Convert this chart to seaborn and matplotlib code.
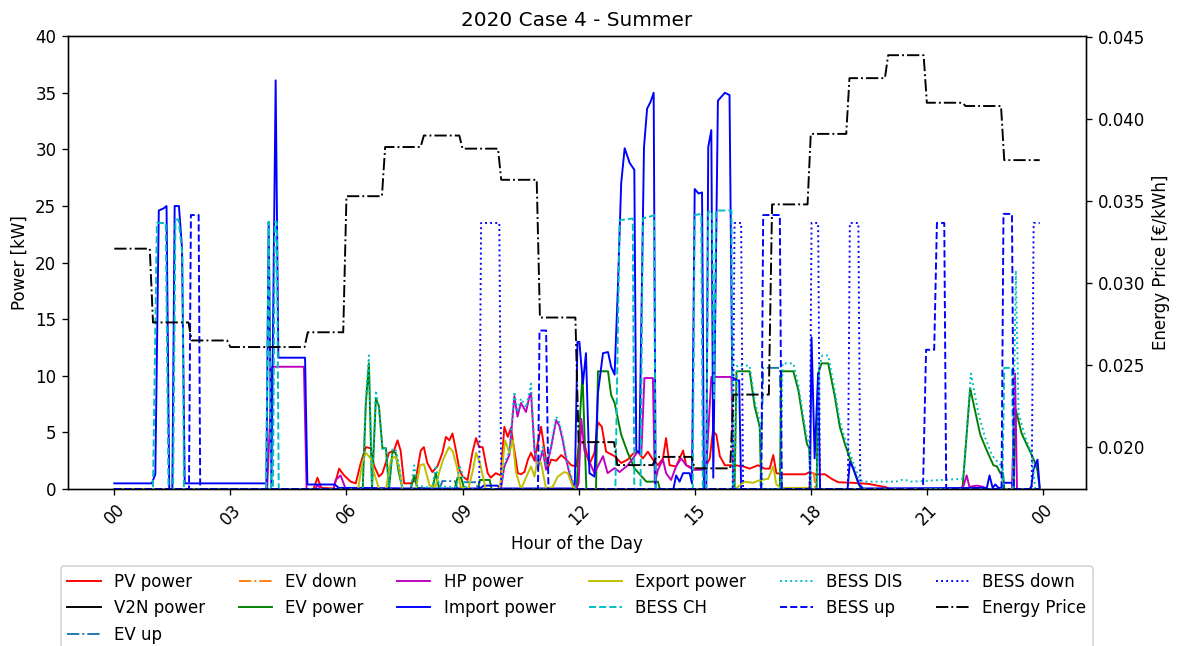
import numpy as np
import pandas as pd
import matplotlib
matplotlib.use("Agg")
import matplotlib.pyplot as plt
import matplotlib.dates as mdates
import seaborn as sns

# ---- series as (hour of day, kW) points ----
pv_power = [(0, 0), (5.15, 0), (5.25, 1.0), (5.35, 0.1), (5.67, 0.05), (5.81, 1.8), (5.94, 1.2),
            (6.11, 0.65), (6.24, 0.5), (6.37, 2.3), (6.5, 3.7), (6.63, 3.6), (6.71, 2.1), (6.84, 1.1),
            (6.93, 1.4), (7.1, 3.2), (7.23, 3.4), (7.32, 4.3), (7.4, 3.4), (7.49, 0.5), (7.66, 0.5),
            (7.79, 0.8), (7.92, 3.4), (8.0, 3.7), (8.09, 2.3), (8.22, 1.5), (8.35, 2.0), (8.48, 3.2),
            (8.57, 4.6), (8.66, 4.3), (8.74, 4.9), (8.83, 3.4), (8.92, 1.7), (9.0, 1.1), (9.13, 0.8),
            (9.26, 3.3), (9.35, 4.5), (9.43, 3.7), (9.52, 3.7), (9.65, 1.4), (9.73, 1.0), (9.86, 1.4),
            (9.99, 1.2), (10.08, 5.5), (10.17, 4.6), (10.25, 5.4), (10.34, 3.4), (10.43, 1.4),
            (10.51, 1.3), (10.6, 1.5), (10.69, 2.6), (10.77, 3.2), (10.86, 2.5), (10.94, 4.0),
            (11.03, 5.5), (11.12, 3.4), (11.2, 1.8), (11.29, 2.6), (11.42, 2.5), (11.55, 3.0),
            (11.68, 2.6), (11.81, 2.1), (11.94, 2.0), (12.02, 4.2), (12.15, 4.0), (12.28, 2.2),
            (12.41, 3.2), (12.5, 5.9), (12.6, 5.5), (12.71, 3.3), (12.93, 2.9), (13.1, 2.3),
            (13.27, 2.6), (13.4, 3.1), (13.53, 3.3), (13.66, 2.7), (13.79, 3.3), (13.92, 2.6),
            (14.05, 2.1), (14.18, 2.7), (14.26, 4.5), (14.35, 2.1), (14.52, 2.0), (14.7, 3.4),
            (14.78, 2.1), (15.0, 1.8), (15.26, 1.8), (15.39, 2.7), (15.47, 5.1), (15.56, 4.8),
            (15.65, 2.9), (15.78, 2.1), (16.04, 2.1), (16.25, 2.0), (16.42, 1.8), (16.64, 2.1),
            (16.81, 1.8), (16.94, 1.8), (17.03, 3.0), (17.11, 1.4), (17.29, 1.3), (17.59, 1.3),
            (17.85, 1.3), (17.98, 1.5), (18.11, 1.3), (18.37, 1.3), (18.54, 0.9), (18.71, 0.6),
            (19.06, 0.55), (19.5, 0.45), (19.95, 0.15), (20.05, 0), (23.917, 0)]

v2n_power = [(0, 0), (23.917, 0)]

ev_up = [(0, 0), (8.4, 0), (8.48, 0.7), (8.8, 0.7), (8.87, 0), (9.0, 0), (9.05, 0.6), (9.35, 0.6),
         (9.4, 0), (16.7, 0), (16.77, 10.7), (17.2, 10.7), (17.25, 0), (23.917, 0)]

ev_down = [(0, 0), (17.95, 0), (18.0, 1.4), (18.08, 1.4), (18.12, 0), (23.917, 0)]

ev_power = [(0, 0), (6.42, 0), (6.5, 7.5), (6.58, 11.1), (6.66, 0), (6.76, 8.0), (6.84, 7.3),
            (6.93, 3.6), (7.02, 3.6), (7.1, 0), (7.19, 3.3), (7.27, 3.2), (7.35, 1.5), (7.45, 0),
            (7.66, 0), (7.75, 1.2), (7.83, 0.1), (8.22, 0), (8.31, 1.4), (8.4, 0), (8.8, 0),
            (8.87, 1.0), (8.96, 1.0), (9.05, 0), (9.4, 0), (9.45, 0.8), (9.7, 0.8), (9.75, 0),
            (11.95, 0), (12.03, 6.0), (12.1, 10.2), (12.2, 0), (12.45, 0), (12.5, 10.4),
            (12.76, 10.4), (12.84, 8.3), (12.93, 7.6), (13.1, 4.8), (13.27, 3.2), (13.45, 1.8),
            (13.75, 0.65), (14.05, 0.65), (14.1, 0), (16.03, 0), (16.08, 10.4), (16.42, 10.4),
            (16.55, 7.3), (16.68, 5.5), (16.72, 0), (17.2, 0), (17.24, 10.4), (17.55, 10.4),
            (17.68, 8.7), (17.8, 6.1), (17.9, 4.0), (17.96, 3.6), (18.0, 0), (18.15, 0),
            (18.19, 10.2), (18.28, 11.1), (18.45, 11.1), (18.62, 8.2), (18.75, 5.5), (18.88, 4.0),
            (19.01, 2.7), (19.14, 1.4), (19.23, 0.5), (19.3, 0), (21.92, 0), (22.12, 8.9),
            (22.38, 4.8), (22.55, 3.4), (22.72, 2.1), (22.81, 2.0), (22.9, 1.4), (22.97, 1.4),
            (23.0, 0), (23.24, 0), (23.3, 7.0), (23.45, 4.9), (23.6, 3.8), (23.71, 3.0),
            (23.8, 2.3), (23.86, 1.6), (23.917, 0)]

hp_power = [(0, 0), (3.95, 0), (4.08, 10.8), (4.9, 10.8), (4.97, 0), (5.2, 0), (5.25, 0.35),
            (5.35, 0), (5.67, 0), (5.72, 0.8), (5.85, 1.2), (5.98, 0), (9.9, 0), (10.0, 0.2),
            (10.08, 2.0), (10.21, 3.0), (10.34, 8.2), (10.42, 6.4), (10.51, 7.6), (10.64, 6.8),
            (10.73, 8.2), (10.77, 8.5), (10.86, 3.4), (10.94, 1.8), (11.07, 3.4), (11.16, 1.7),
            (11.29, 3.7), (11.42, 6.1), (11.5, 5.6), (11.59, 4.3), (11.68, 2.6), (11.76, 1.4),
            (11.85, 0.5), (11.94, 0), (12.0, 0.5), (12.07, 6.2), (12.15, 3.4), (12.41, 1.4),
            (12.63, 2.9), (12.75, 1.4), (12.93, 1.85), (13.06, 1.5), (13.27, 2.1), (13.53, 3.3),
            (13.62, 3.0), (13.7, 9.8), (13.92, 9.8), (13.97, 0.5), (14.05, 1.7), (14.18, 2.6),
            (14.26, 1.4), (14.39, 0.8), (14.52, 2.0), (14.65, 2.7), (14.78, 2.1), (14.96, 1.7),
            (15.21, 1.7), (15.3, 1.9), (15.43, 9.9), (15.95, 9.9), (16.0, 0), (21.85, 0),
            (21.95, 0.3), (22.03, 1.2), (22.1, 0.2), (22.3, 0.3), (22.45, 0.2), (22.55, 0),
            (23.2, 0), (23.28, 10.2), (23.33, 0), (23.917, 0)]

import_power = [(0, 0.5), (0.97, 0.5), (1.06, 1.3), (1.15, 24.6), (1.28, 24.8), (1.35, 25.0),
                (1.42, 0), (1.5, 0), (1.56, 25.0), (1.67, 25.0), (1.75, 21.3), (1.82, 0.5),
                (3.93, 0.5), (3.99, 23.6), (4.06, 0.5), (4.17, 36.1), (4.24, 11.6), (4.93, 11.6),
                (4.99, 0.4), (5.7, 0.4), (5.8, 0.1), (6.3, 0.1), (7.6, 0.05), (9.45, 0.05),
                (9.55, 0.3), (9.9, 0.3), (10.0, 0.05), (11.9, 0.05), (11.97, 13.0), (12.02, 13.0),
                (12.11, 9.3), (12.19, 12.0), (12.28, 1.4), (12.41, 1.1), (12.5, 8.5), (12.63, 12.0),
                (12.76, 12.1), (12.84, 10.8), (12.93, 10.1), (13.01, 17.3), (13.1, 27.0),
                (13.19, 30.1), (13.32, 28.8), (13.44, 28.2), (13.49, 3.4), (13.57, 3.2),
                (13.69, 30.2), (13.77, 33.6), (13.86, 34.2), (13.94, 35.0), (13.99, 0), (14.45, 0),
                (14.52, 1.2), (14.61, 0.65), (14.7, 1.4), (14.87, 1.4), (14.93, 0.5), (15.0, 26.5),
                (15.1, 26.1), (15.19, 26.2), (15.24, 0), (15.3, 0), (15.35, 30.2), (15.43, 31.7),
                (15.48, 1.0), (15.6, 34.3), (15.78, 35.0), (15.9, 34.8), (15.97, 9.9), (16.08, 9.6),
                (16.15, 9.6), (16.2, 0), (17.98, 0), (18.02, 13.4), (18.1, 2.7), (18.19, 10.2),
                (18.24, 0), (18.95, 0), (19.01, 2.4), (19.1, 1.8), (19.25, 0.4), (19.35, 0.05),
                (22.55, 0.1), (22.62, 1.2), (22.7, 0.1), (22.77, 0.4), (22.85, 0.1), (22.95, 0.1),
                (23.0, 0.55), (23.2, 0.55), (23.26, 0), (23.65, 0), (23.7, 0.2), (23.76, 1.8),
                (23.86, 2.6), (23.917, 0.1)]

export_power = [(0, 0), (6.3, 0), (6.41, 2.3), (6.5, 3.2), (6.63, 2.7), (6.71, 1.5), (6.84, 0),
                (7.02, 0), (7.15, 2.6), (7.27, 2.9), (7.35, 2.0), (7.45, 0), (7.8, 0), (7.9, 2.1),
                (8.0, 2.2), (8.15, 0.3), (8.3, 0.2), (8.4, 1.5), (8.5, 2.6), (8.65, 3.7),
                (8.75, 3.3), (8.85, 2.0), (8.95, 0.2), (9.15, 0), (9.27, 1.7), (9.35, 3.2),
                (9.45, 2.3), (9.6, 0), (9.95, 0), (10.0, 1.1), (10.1, 4.3), (10.21, 3.2),
                (10.3, 4.3), (10.38, 1.5), (10.51, 0), (10.69, 1.4), (10.77, 2.0), (10.86, 1.1),
                (10.94, 2.6), (11.03, 2.3), (11.16, 0), (11.33, 0.2), (11.46, 1.1), (11.63, 1.5),
                (11.72, 1.4), (11.85, 0.2), (11.94, 0), (16.05, 0), (16.12, 0.2), (16.29, 0.65),
                (16.5, 0.55), (16.7, 0.8), (16.9, 0.9), (17.03, 2.0), (17.11, 0.4), (17.24, 0.1),
                (17.95, 0.1), (18.05, 0), (23.917, 0)]

bess_ch = [(0, 0), (1.0, 0), (1.1, 23.5), (1.33, 23.5), (1.4, 0), (1.52, 0), (1.58, 23.8),
           (1.66, 23.8), (1.76, 20.7), (1.8, 0), (3.92, 0), (3.99, 23.6), (4.05, 0), (4.1, 0),
           (4.15, 23.6), (4.2, 23.6), (4.25, 0), (12.95, 0), (13.06, 23.75), (13.4, 23.9),
           (13.44, 0), (13.6, 0), (13.66, 23.9), (13.88, 24.1), (13.95, 24.2), (13.99, 0),
           (14.95, 0), (15.0, 24.2), (15.17, 24.3), (15.21, 0), (15.3, 0), (15.35, 24.5),
           (15.45, 24.5), (15.5, 8.0), (15.55, 24.6), (15.95, 24.6), (15.99, 0), (22.95, 0),
           (23.0, 10.7), (23.2, 10.7), (23.24, 0), (23.917, 0)]

bess_dis = [(0, 0), (6.42, 0), (6.5, 8.0), (6.58, 11.8), (6.66, 0.3), (6.76, 8.7), (6.84, 7.1),
            (6.93, 3.4), (7.02, 3.6), (7.1, 0.2), (7.19, 3.5), (7.27, 3.5), (7.35, 2.3), (7.45, 0),
            (7.66, 0), (7.75, 2.1), (7.83, 0.3), (8.22, 0.1), (8.31, 2.1), (8.4, 0.2), (8.85, 0.2),
            (8.92, 2.1), (9.0, 1.3), (9.1, 0), (9.95, 0), (10.0, 0.3), (10.08, 2.2), (10.21, 3.4),
            (10.34, 8.6), (10.42, 6.8), (10.51, 8.0), (10.64, 7.2), (10.73, 8.6), (10.77, 9.3),
            (10.86, 3.8), (10.94, 2.1), (11.07, 3.7), (11.16, 2.0), (11.29, 4.0), (11.42, 6.4),
            (11.5, 5.9), (11.59, 4.6), (11.68, 2.9), (11.76, 1.7), (11.85, 0.7), (11.94, 0),
            (16.03, 0), (16.1, 10.9), (16.42, 10.9), (16.55, 7.8), (16.68, 6.0), (16.75, 0),
            (17.22, 0), (17.27, 11.1), (17.55, 11.1), (17.68, 9.2), (17.8, 6.6), (17.9, 4.5),
            (17.96, 4.0), (18.0, 0), (18.15, 0), (18.22, 10.8), (18.3, 11.8), (18.45, 11.8),
            (18.62, 8.7), (18.75, 6.0), (18.88, 4.5), (19.01, 3.2), (19.14, 1.9), (19.25, 0.9),
            (19.35, 0.65), (20.2, 0.65), (20.4, 0.85), (20.6, 0.65), (21.9, 0.9), (21.95, 1.0),
            (22.14, 10.2), (22.33, 6.7), (22.5, 4.6), (22.68, 3.0), (22.85, 2.3), (22.95, 2.0),
            (23.0, 0), (23.22, 0), (23.3, 19.3), (23.37, 6.7), (23.54, 4.6), (23.71, 3.1),
            (23.8, 0), (23.917, 0)]

bess_up = [(0, 0), (1.93, 0), (1.98, 24.2), (2.18, 24.2), (2.22, 0), (10.95, 0), (10.99, 14.0),
           (11.16, 14.0), (11.22, 0), (16.72, 0), (16.77, 24.2), (17.2, 24.2), (17.25, 0),
           (20.9, 0), (20.98, 12.3), (21.19, 12.3), (21.26, 23.5), (21.45, 23.5), (21.5, 0),
           (22.93, 0), (22.98, 24.3), (23.2, 24.3), (23.25, 0), (23.917, 0)]

bess_down = [(0, 0), (9.43, 0), (9.48, 23.5), (9.95, 23.5), (10.0, 0), (15.98, 0), (16.03, 23.5),
             (16.2, 23.5), (16.25, 0), (17.97, 0), (18.02, 23.5), (18.19, 23.5), (18.24, 0),
             (18.96, 0), (19.01, 23.5), (19.23, 23.5), (19.28, 0), (23.71, 0), (23.76, 23.5),
             (23.917, 23.5)]

# hourly energy price in EUR/kWh, hours 00..23
energy_price = [0.0321, 0.0276, 0.0265, 0.0261, 0.0261, 0.0270, 0.0353, 0.0383,
                0.0390, 0.0382, 0.0363, 0.0279, 0.0203, 0.0189, 0.0194, 0.0187,
                0.0232, 0.0348, 0.0391, 0.0425, 0.0439, 0.0410, 0.0408, 0.0375]

series = [
    ("PV power", pv_power, "red", "-"),
    ("V2N power", v2n_power, "black", "-"),
    ("EV up", ev_up, "tab:blue", "-."),
    ("EV down", ev_down, "tab:orange", "-."),
    ("EV power", ev_power, "green", "-"),
    ("HP power", hp_power, "m", "-"),
    ("Import power", import_power, "blue", "-"),
    ("Export power", export_power, "y", "-"),
    ("BESS CH", bess_ch, "c", "--"),
    ("BESS DIS", bess_dis, "c", ":"),
    ("BESS up", bess_up, "blue", "--"),
    ("BESS down", bess_down, "blue", ":"),
]

day = pd.Timestamp("2020-07-15")


def to_frame(points):
    hours, values = zip(*points)
    return pd.DataFrame({
        "time": day + pd.to_timedelta(np.array(hours, dtype=float), unit="h"),
        "value": np.array(values, dtype=float),
    })


DPI = 120
fig, ax = plt.subplots(figsize=(1183 / DPI, 646 / DPI), dpi=DPI)
fig.subplots_adjust(left=0.0575, right=0.918, top=0.944, bottom=0.243)

LW = 1.15
handles, labels = [], []
for name, pts, color, ls in series:
    sns.lineplot(data=to_frame(pts), x="time", y="value", ax=ax, color=color,
                 linestyle=ls, linewidth=LW, estimator=None, sort=False, legend=False)
    handles.append(ax.lines[-1])
    labels.append(name)

ax2 = ax.twinx()
price_df = pd.DataFrame({
    "time": day + pd.to_timedelta(np.arange(288) * 5, unit="min"),
    "price": np.repeat(energy_price, 12),
})
sns.lineplot(data=price_df, x="time", y="price", ax=ax2, color="black", linestyle="-.",
             linewidth=LW, estimator=None, sort=False, legend=False)
handles.append(ax2.lines[-1])
labels.append("Energy Price")

ax.set_xlim(day - pd.Timedelta(hours=1.196), day + pd.Timedelta(hours=25.113))
ax.xaxis.set_major_locator(mdates.HourLocator(byhour=range(0, 24, 3)))
ax.xaxis.set_major_formatter(mdates.DateFormatter("%H"))
ax.tick_params(axis="x", labelrotation=45)

ax.set_ylim(0, 40)
ax2.set_ylim(0.01744, 0.04506)
ax2.set_yticks([0.020, 0.025, 0.030, 0.035, 0.040, 0.045])

ax.set_xlabel("Hour of the Day")
ax.set_ylabel("Power [kW]")
ax2.set_ylabel("Energy Price [€/kWh]")
ax.set_title("2020 Case 4 - Summer")

ax.legend(handles, labels, loc="upper center", bbox_to_anchor=(0.5, -0.152), ncol=6)

fig.savefig("out.png", dpi=DPI)
